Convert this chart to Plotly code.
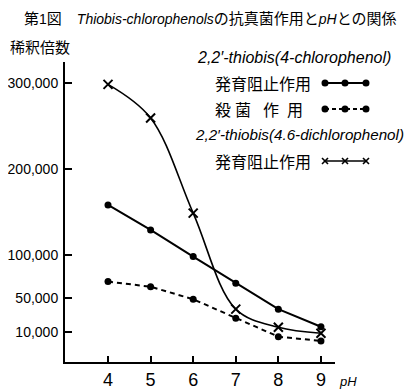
import plotly.graph_objects as go

# ---- data ----
ph = [4, 5, 6, 7, 8, 9]
growth_4cl = [158000, 129000, 98000, 67000, 37000, 16500]      # 2,2'-thiobis(4-chlorophenol) 発育阻止作用
fungicidal_4cl = [69000, 63000, 48500, 26500, 5000, 0]         # 2,2'-thiobis(4-chlorophenol) 殺菌作用
growth_46dcl = [298000, 259000, 148500, 37000, 16000, 9000]    # 2,2'-thiobis(4.6-dichlorophenol) 発育阻止作用

y_tickvals = [300000, 200000, 100000, 50000, 10000]
y_ticktext = ["300,000", "200,000", "100,000", "50,000", "10,000"]
x_tickvals = [4, 5, 6, 7, 8, 9]

# page body has an 8px margin -> figure is drawn 8px in from the window corner
OFF = 8
W, H = 415 - OFF, 390 - OFF
PL, PR, PT, PB = 65, 335, 62, 362          # plot area edges in window pixels
L, R, T, B = PL - OFF, W - (PR - OFF), PT - OFF, H - (PB - OFF)
PW, PH = PR - PL, PB - PT

def px(x):
    return (x - PL) / PW

def py(y):
    return (PB - y) / PH

LAT = "Liberation Sans, Arial, Noto Sans CJK JP, sans-serif"
CJK = "Noto Sans CJK JP, Liberation Sans, sans-serif"

fig = go.Figure()

fig.add_trace(go.Scatter(
    x=ph, y=growth_4cl, mode="lines+markers",
    line=dict(color="black", width=2),
    marker=dict(symbol="circle", size=7, color="black"),
    showlegend=False, cliponaxis=False,
))
fig.add_trace(go.Scatter(
    x=ph, y=fungicidal_4cl, mode="lines+markers",
    line=dict(color="black", width=2, dash="5px,4px"),
    marker=dict(symbol="circle", size=7, color="black"),
    showlegend=False, cliponaxis=False,
))
fig.add_trace(go.Scatter(
    x=ph, y=growth_46dcl, mode="lines+markers",
    line=dict(color="black", width=1.6, shape="spline", smoothing=1.0),
    marker=dict(symbol="x-thin", size=9, color="black", line=dict(width=2, color="black")),
    showlegend=False, cliponaxis=False,
))

shapes = []
annotations = []

def lat(s, size, italic=True):
    inner = f"<i>{s}</i>" if italic else s
    return f"<span style='font-family:{LAT};font-size:{size}px'>{inner}</span>"

# title and y-axis caption
annotations.append(dict(
    x=px(22), y=py(17), xref="paper", yref="paper", xanchor="left", yanchor="middle",
    text="第" + lat("1", 14, italic=False) + "図\u3000"
         + lat("Thiobis-chlorophenols", 14) + "の抗真菌作用と" + lat("pH", 14) + "との関係",
    showarrow=False, font=dict(family=CJK, size=15, color="black"),
))
annotations.append(dict(
    x=px(8), y=py(47), xref="paper", yref="paper", xanchor="left", yanchor="middle",
    text="稀釈倍数", showarrow=False, font=dict(family=CJK, size=15, color="black"),
))
annotations.append(dict(
    x=px(337), y=py(381), xref="paper", yref="paper", xanchor="left", yanchor="middle",
    text="<i>pH</i>", showarrow=False, font=dict(family=LAT, size=13, color="black"),
))

# legend block (text left, sample right)
legend_rows = [
    ("<i>2,2′-thiobis(4-chlorophenol)</i>", 195, 57, LAT, 16, None),
    ("発育阻止作用", 213, 83, CJK, 16, "solid"),
    ("殺\u2005菌\u2002\u2005作\u2002用", 213, 109, CJK, 16, "dash"),
    ("<i>2,2′-thiobis(4.6-dichlorophenol)</i>", 193, 135, LAT, 15.2, None),
    ("発育阻止作用", 213, 161, CJK, 16, "cross"),
]
sample_x = [325, 345, 366]
for text, lx, ly, fam, size, kind in legend_rows:
    annotations.append(dict(
        x=px(lx), y=py(ly), xref="paper", yref="paper", xanchor="left", yanchor="middle",
        text=text, showarrow=False, font=dict(family=fam, size=size, color="black"),
    ))
    if kind is None:
        continue
    dash = "4px,3px" if kind == "dash" else "solid"
    lw = 1.3 if kind == "cross" else 1.8
    shapes.append(dict(type="line", xref="paper", yref="paper",
                       x0=px(sample_x[0]), x1=px(sample_x[-1]), y0=py(ly), y1=py(ly),
                       line=dict(color="black", width=lw, dash=dash)))
    for sx in sample_x:
        if kind == "cross":
            for a, b in ((-3, 3), (3, -3)):
                shapes.append(dict(type="line", xref="paper", yref="paper",
                                   xsizemode="pixel", ysizemode="pixel",
                                   xanchor=px(sx), yanchor=py(ly),
                                   x0=-3, x1=3, y0=a, y1=b,
                                   line=dict(color="black", width=1.6)))
        else:
            shapes.append(dict(type="circle", xref="paper", yref="paper",
                               xsizemode="pixel", ysizemode="pixel",
                               xanchor=px(sx), yanchor=py(ly),
                               x0=-3.5, x1=3.5, y0=-3.5, y1=3.5,
                               fillcolor="black", line=dict(color="black", width=0)))

fig.update_layout(
    width=W, height=H,
    margin=dict(l=L, r=R, t=T, b=B, pad=0, autoexpand=False),
    paper_bgcolor="white", plot_bgcolor="white",
    shapes=shapes, annotations=annotations,
    xaxis=dict(
        range=[2.99, 9.33], tickvals=x_tickvals, ticktext=[str(v) for v in x_tickvals],
        showgrid=False, zeroline=False, showline=True, linecolor="black", linewidth=2,
        ticks="inside", ticklen=6, tickwidth=1.5, tickcolor="black", automargin=False,
        tickfont=dict(family=LAT, size=18, color="black"), ticklabeloverflow="allow",
    ),
    yaxis=dict(
        range=[-24400, 324000], tickvals=y_tickvals, ticktext=y_ticktext,
        showgrid=False, zeroline=False, showline=True, linecolor="black", linewidth=2,
        ticks="inside", ticklen=7, tickwidth=1.5, tickcolor="black", automargin=False,
        tickfont=dict(family=LAT, size=14, color="black"),
        ticklabelstandoff=2, ticklabeloverflow="allow",
    ),
)

fig.write_html("out.html")
